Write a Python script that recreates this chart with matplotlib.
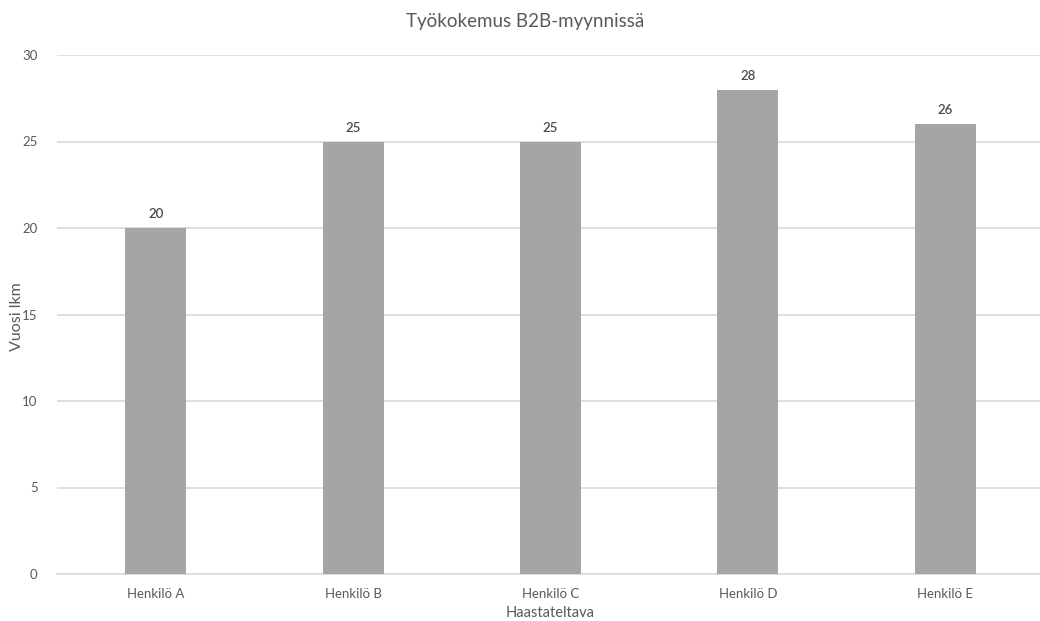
import matplotlib.pyplot as plt

# kokemusvuodet haastateltavittain
henkilot = ['Henkilö A', 'Henkilö B', 'Henkilö C', 'Henkilö D', 'Henkilö E']
vuodet = [20, 25, 25, 28, 26]
y_ticks = [0, 5, 10, 15, 20, 25, 30]

plt.rcParams['font.family'] = ['Lato', 'DejaVu Sans']
text_color = '#595959'

fig = plt.figure(figsize=(10.4, 6.21), dpi=100)
W, H = 1040, 621
left, right, top, bottom = 57, 1044, 55, 574
ax = fig.add_axes([left / W, 1 - bottom / H, (right - left) / W, (bottom - top) / H])

x = range(len(henkilot))
bars = ax.bar(x, vuodet, width=0.31, color='#a5a5a5', zorder=3)
for b, v in zip(bars, vuodet):
    ax.text(b.get_x() + b.get_width() / 2, v + 0.45, str(v), ha='center', va='bottom',
            fontsize=9.5, color='#4a4a4a', fontweight='semibold')

ax.set_xlim(-0.5, len(henkilot) - 0.5)
ax.set_ylim(0, 30)
ax.set_yticks(y_ticks)
ax.set_xticks(list(x))
ax.set_xticklabels(henkilot)
ax.grid(axis='y', color='#d9d9d9', linewidth=1.2, zorder=0)
for s in ['top', 'right', 'left']:
    ax.spines[s].set_visible(False)
ax.spines['bottom'].set_color('#d9d9d9')
ax.spines['bottom'].set_linewidth(1.2)
ax.tick_params(length=0, colors=text_color, labelsize=9.5)
ax.tick_params(axis='y', pad=14)
ax.tick_params(axis='x', pad=10)

fig.text(525 / W, 1 - 22 / H, 'Työkokemus B2B-myynnissä', ha='center', va='center',
         fontsize=13.5, color=text_color)
fig.text(17 / W, 1 - 317 / H, 'Vuosi lkm', rotation=90, ha='center', va='center',
         fontsize=11.5, color=text_color)
fig.text(550 / W, 1 - 613 / H, 'Haastateltava', ha='center', va='center',
         fontsize=10.5, color=text_color)

plt.savefig('out.png', dpi=100)
